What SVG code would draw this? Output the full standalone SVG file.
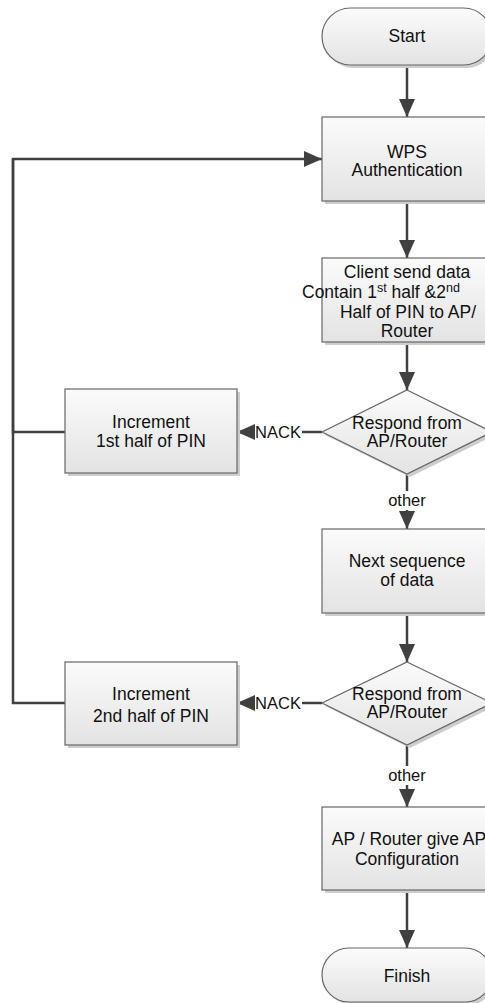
<svg xmlns="http://www.w3.org/2000/svg" width="485" height="1003" viewBox="0 0 485 1003">
<defs>
<linearGradient id="g" x1="0" y1="0" x2="0" y2="1">
<stop offset="0" stop-color="#fbfbfb"/>
<stop offset="1" stop-color="#e3e3e3"/>
</linearGradient>
<marker id="ah" markerUnits="userSpaceOnUse" markerWidth="19" markerHeight="16" refX="18" refY="8" orient="auto">
<path d="M0,0 L18,8 L0,16 z" fill="#404040"/>
</marker>
<style>
.shape{fill:url(#g);stroke:#666;stroke-width:1.2}
.shadow{fill:#cdcdcd}
.t{font-family:"Liberation Sans",Arial,sans-serif;font-size:17.5px;fill:#111;text-anchor:middle}
.lbl{font-family:"Liberation Sans",Arial,sans-serif;font-size:16.5px;fill:#111;text-anchor:middle}
.c{fill:none;stroke:#404040;stroke-width:2.5}
.bg{fill:#fff}
</style>
</defs>
<rect width="485" height="1003" fill="#fff"/>

<g id="connectors">
<path class="c" d="M407,65 V117" marker-end="url(#ah)"/>
<path class="c" d="M407,200 V258" marker-end="url(#ah)"/>
<path class="c" d="M407,342 V390" marker-end="url(#ah)"/>
<path class="c" d="M322,432 H237" marker-end="url(#ah)"/>
<path class="c" d="M407,474 V529" marker-end="url(#ah)"/>
<path class="c" d="M407,613 V662" marker-end="url(#ah)"/>
<path class="c" d="M322,703 H237" marker-end="url(#ah)"/>
<path class="c" d="M407,745 V807" marker-end="url(#ah)"/>
<path class="c" d="M407,890 V948" marker-end="url(#ah)"/>
<path class="c" d="M65,432 H13 V159 H322" marker-end="url(#ah)"/>
<path class="c" d="M65,703 H13 V159" />
<rect class="bg" x="255" y="423" width="47" height="18"/>
<text class="lbl" x="278" y="438">NACK</text>
<rect class="bg" x="255" y="694" width="47" height="18"/>
<text class="lbl" x="278" y="709">NACK</text>
<rect class="bg" x="384" y="491" width="46" height="19"/>
<text class="lbl" x="407" y="506">other</text>
<rect class="bg" x="384" y="766" width="46" height="19"/>
<text class="lbl" x="407" y="781">other</text>
</g>

<g id="start">
<rect class="shadow" x="325" y="11" width="170" height="57" rx="28.5"/>
<rect class="shape" x="322" y="8" width="170" height="57" rx="28.5"/>
<text class="t" x="407" y="42">Start</text>
</g>

<g id="wps">
<rect class="shadow" x="325" y="120" width="170" height="84"/>
<rect class="shape" x="322" y="117" width="170" height="84"/>
<text class="t" x="407" y="158">WPS</text>
<text class="t" x="407" y="176">Authentication</text>
</g>

<g id="client">
<rect class="shadow" x="325" y="261" width="170" height="84"/>
<rect class="shape" x="322" y="258" width="170" height="84"/>
<text class="t" x="407" y="278">Client send data</text>
<text class="t" x="302" y="298" style="text-anchor:start">Contain 1<tspan font-size="12.5" dy="-6">st</tspan><tspan dy="6"> half &amp;2</tspan><tspan font-size="12.5" dy="-6">nd</tspan></text>
<text class="t" x="408" y="318">Half of PIN to AP/</text>
<text class="t" x="407" y="337">Router</text>
</g>

<g id="decision1">
<polygon class="shadow" points="410,393 495,435 410,477 325,435"/>
<polygon class="shape" points="407,390 492,432 407,474 322,432"/>
<text class="t" x="407" y="429">Respond from</text>
<text class="t" x="407" y="447">AP/Router</text>
</g>

<g id="inc1">
<rect class="shadow" x="68" y="392" width="172" height="84"/>
<rect class="shape" x="65" y="389" width="172" height="84"/>
<text class="t" x="151" y="428">Increment</text>
<text class="t" x="151" y="447">1st half of PIN</text>
</g>

<g id="next">
<rect class="shadow" x="325" y="532" width="170" height="84"/>
<rect class="shape" x="322" y="529" width="170" height="84"/>
<text class="t" x="407" y="567">Next sequence</text>
<text class="t" x="407" y="586">of data</text>
</g>

<g id="decision2">
<polygon class="shadow" points="410,665 495,706 410,748 325,706"/>
<polygon class="shape" points="407,662 492,703 407,745 322,703"/>
<text class="t" x="407" y="700">Respond from</text>
<text class="t" x="407" y="718">AP/Router</text>
</g>

<g id="inc2">
<rect class="shadow" x="68" y="665" width="172" height="83"/>
<rect class="shape" x="65" y="662" width="172" height="83"/>
<text class="t" x="151" y="700">Increment</text>
<text class="t" x="151" y="722">2nd half of PIN</text>
</g>

<g id="config">
<rect class="shadow" x="325" y="810" width="170" height="83"/>
<rect class="shape" x="322" y="807" width="170" height="83"/>
<text class="t" x="409" y="845">AP / Router give AP</text>
<text class="t" x="407" y="865">Configuration</text>
</g>

<g id="finish">
<rect class="shadow" x="325" y="951" width="170" height="54" rx="27"/>
<rect class="shape" x="322" y="948" width="170" height="54" rx="27"/>
<text class="t" x="407" y="982">Finish</text>
</g>
</svg>
